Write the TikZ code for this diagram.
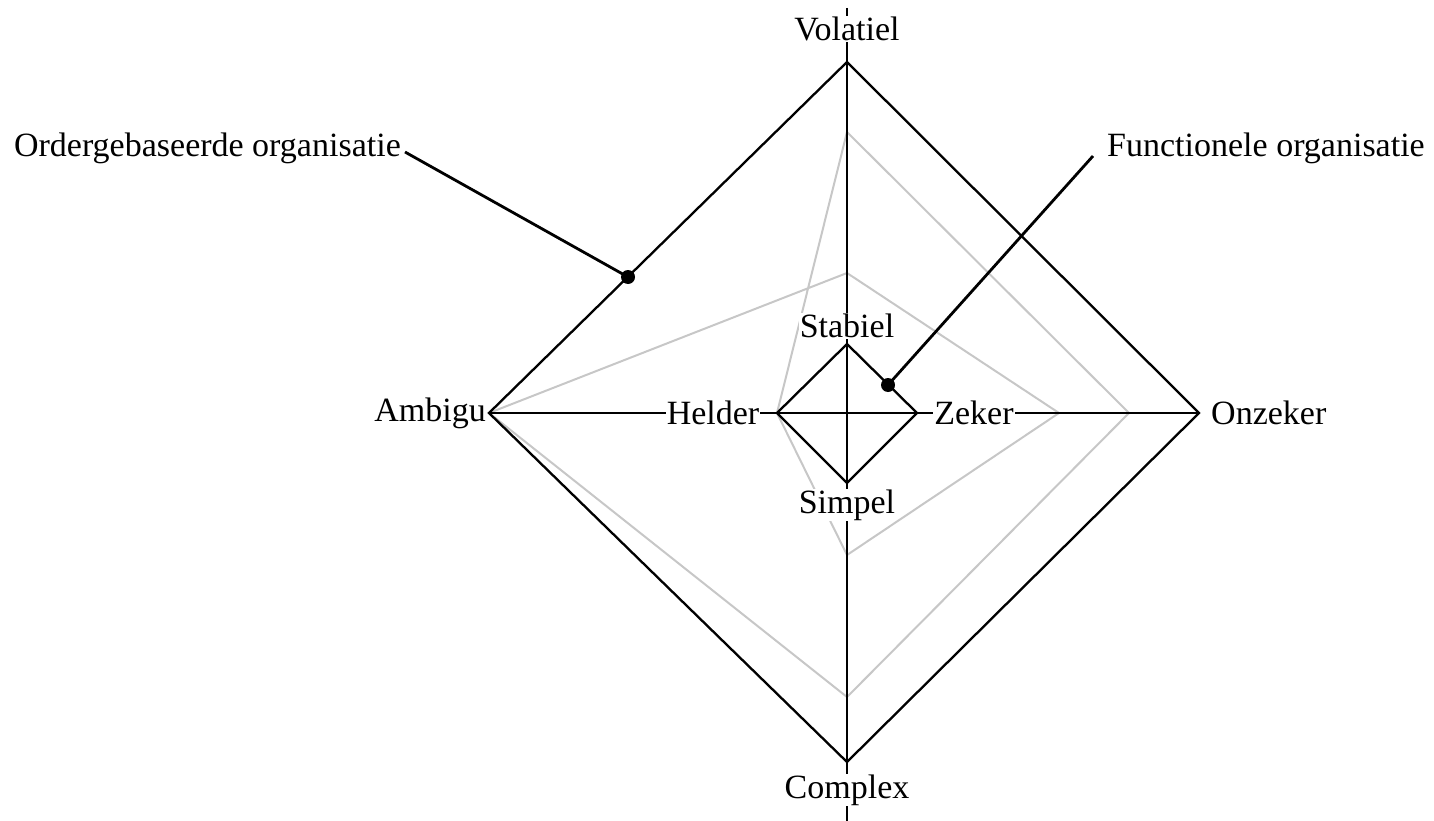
\documentclass[tikz,border=0pt]{standalone}
\usepackage{fontspec}
\setmainfont{Liberation Serif}
\begin{document}
\begin{tikzpicture}[x=1pt,y=-1pt,
  blk/.style={draw=black,line width=2.3pt,line join=miter},
  gry/.style={draw=black!22,line width=2pt},
  lbl/.style={font=\fontsize{34}{40}\selectfont,inner sep=1pt,fill=white},
  freelbl/.style={font=\fontsize{34}{40}\selectfont,inner sep=1pt},
  dotc/.style={circle,fill=black,inner sep=0pt,minimum size=14pt}]
\useasboundingbox (0,0) rectangle (1434,821);
% vertices
\coordinate (C) at (847,413);
\coordinate (OT) at (847,62);
\coordinate (OR) at (1199,413);
\coordinate (OB) at (847,762);
\coordinate (OL) at (489,413);
\coordinate (IT) at (847,344);
\coordinate (IR) at (917,413);
\coordinate (IB) at (847,483);
\coordinate (IL) at (777,413);
\coordinate (G1) at (847,132);
\coordinate (G2) at (1129,413);
\coordinate (G3) at (847,697);
\coordinate (G4) at (847,273);
\coordinate (G5) at (1059,413);
\coordinate (G6) at (847,555);
\coordinate (AT) at (847,8);
\coordinate (AB) at (847,821);
% grey polygon
\draw[gry] (G1) -- (G2) -- (G3) -- (OL) -- (G4) -- (G5) -- (G6) -- (IL) -- cycle;
% axes
\draw[blk] (AT) -- (AB);
\draw[blk] (OL) -- (OR);
% diamonds
\draw[blk] (OT) -- (OR) -- (OB) -- (OL) -- cycle;
\draw[blk] (IT) -- (IR) -- (IB) -- (IL) -- cycle;
% axis labels
\node[lbl] (volatiel) at (847,29) {Volatiel};
\node[lbl] (complex) at (847,790) {Complex};
\node[lbl] (stabiel) at (847,326) {Stabiel};
\node[lbl] (simpel) at (847,505) {Simpel};
\node[lbl,anchor=east] (ambigu) at (487,413) {Ambigu};
\node[lbl,anchor=west] (onzeker) at (1210,413) {Onzeker};
\node[lbl] (helder) at (713,413) {Helder};
\node[lbl] (zeker) at (974,413) {Zeker};
% callouts
\node[freelbl,anchor=east] (order) at (402,148) {Ordergebaseerde organisatie};
\node[freelbl,anchor=west] (func) at (1106,148) {Functionele organisatie};
\node[dotc] (d1) at (628,277) {};
\node[dotc] (d2) at (888,385) {};
\coordinate (e1) at (405,152);
\coordinate (e2) at (1093,156);
\draw[black,line width=2.8pt] (e1) -- (d1.center);
\draw[black,line width=2.8pt] (e2) -- (d2.center);
\end{tikzpicture}
\end{document}
